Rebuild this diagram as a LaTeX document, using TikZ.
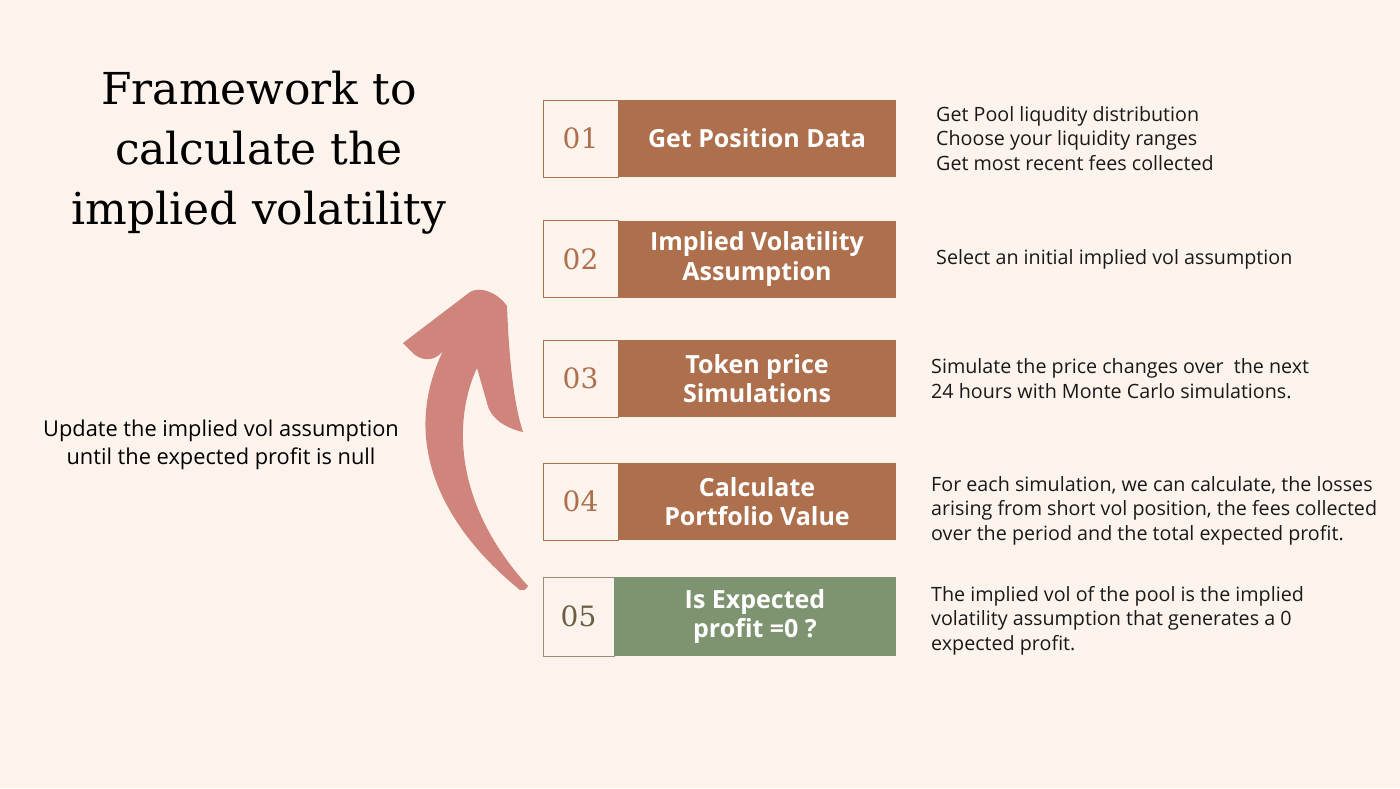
\documentclass[tikz,border=0pt]{standalone}
\usepackage{fontspec}
\setsansfont{Open Sans}
\newfontfamily\titlefont{DejaVu Serif}
\usepackage{xcolor}
\usetikzlibrary{positioning}

\definecolor{bgpeach}{RGB}{253,243,237}
\definecolor{rust}{RGB}{173,111,76}
\definecolor{sage}{RGB}{126,148,112}
\definecolor{rose}{RGB}{207,133,124}
\definecolor{olivenum}{RGB}{110,92,66}

\begin{document}
\begin{tikzpicture}[
  x=1pt, y=-1pt,
  num/.style={draw=rust, line width=0.8pt, fill=bgpeach, minimum width=75pt, minimum height=77pt, outer sep=0pt, text=rust, font=\titlefont\fontsize{28}{28}\selectfont},
  stepbox/.style={fill=rust, minimum width=278pt, minimum height=77pt, outer sep=0pt, inner sep=0pt, align=center, text=white, font=\sffamily\bfseries\fontsize{25}{29.5}\selectfont},
  desc/.style={anchor=west, align=left, inner sep=0pt, text=black!90, font=\sffamily\fontsize{19.7}{24.5}\selectfont}
]
\fill[bgpeach] (0,0) rectangle (1400,788);

% title and loop note
\node[align=center, font=\titlefont\fontsize{44}{60}\selectfont] (title) at (259,153) {Framework to\\calculate the\\implied volatility};
\node[align=center, font=\sffamily\fontsize{21.8}{28}\selectfont] (loopnote) at (221,445) {Update the implied vol assumption\\until the expected profit is null};

% steps
\node[num] (n1) at (580.5,138.5) {01};
\node[stepbox, right=0pt of n1] (s1) {Get Position Data};
\node[num] (n2) at (580.5,259) {02};
\node[stepbox, right=0pt of n2] (s2) {Implied Volatility\\Assumption};
\node[num] (n3) at (580.5,378.5) {03};
\node[stepbox, right=0pt of n3] (s3) {Token price\\Simulations};
\node[num] (n4) at (580.5,501.5) {04};
\node[stepbox, right=0pt of n4] (s4) {Calculate\\Portfolio Value};
\node[num, draw=olivenum!70, text=olivenum, minimum width=71pt, minimum height=79pt] (n5) at (578.5,616.5) {05};
\node[stepbox, fill=sage, minimum width=282pt, minimum height=79pt, right=0pt of n5] (s5) {Is Expected\\profit =0 ?};

% descriptions
\node[desc, right=40pt of s1] (d1) {Get Pool liqudity distribution\\Choose your liquidity ranges\\Get most recent fees collected};
\node[desc, right=40pt of s2] (d2) {Select an initial implied vol assumption};
\node[desc, right=35pt of s3] (d3) {Simulate the price changes over\ \ the next\\24 hours with Monte Carlo simulations.};
\node[desc, right=35pt of s4, yshift=-9pt] (d4) {For each simulation, we can calculate, the losses\\arising from short vol position, the fees collected\\over the period and the total expected profit.};
\node[desc, right=35pt of s5, yshift=-4pt] (d5) {The implied vol of the pool is the implied\\volatility assumption that generates a 0\\expected profit.};

% curved loop arrow
\fill[rose] (403,343) -- (470,292) .. controls (480,286) and (497,292) .. (507,306)
  .. controls (509,360) and (514,405) .. (523,432)
  .. controls (505,428) and (490,418) .. (487,403) -- (477,368)
  .. controls (455,415) and (450,500) .. (528,586)
  .. controls (526,590) and (523,591) .. (520,590)
  .. controls (440,525) and (400,440) .. (443,351)
  .. controls (436,360) and (425,362) .. (415,355) -- cycle;
\end{tikzpicture}
\end{document}
